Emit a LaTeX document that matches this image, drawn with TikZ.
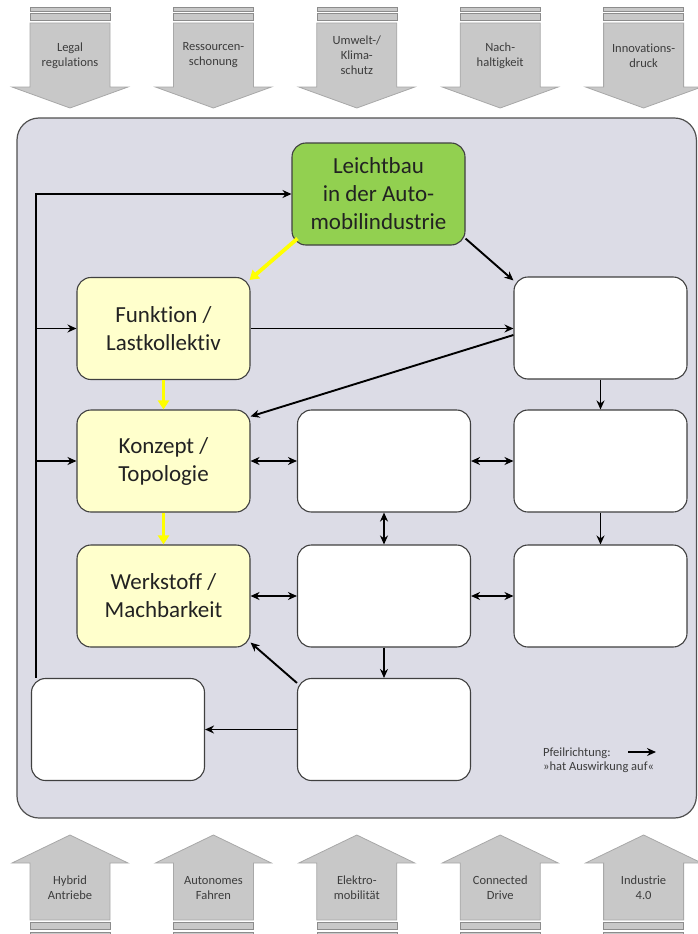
\documentclass[tikz,border=0pt]{standalone}
\usepackage{fontspec}
\setmainfont{Carlito}[Ligatures={NoCommon}]
\usetikzlibrary{arrows.meta,calc}

\definecolor{panel}{HTML}{DCDCE6}
\definecolor{panelline}{HTML}{505050}
\definecolor{leaf}{HTML}{92D050}
\definecolor{cream}{HTML}{FFFFCC}
\definecolor{boxline}{HTML}{404040}
\definecolor{ink}{HTML}{222222}
\definecolor{trend}{HTML}{C8C8C8}
\definecolor{trendline}{HTML}{A8A8A8}
\definecolor{barline}{HTML}{8C8C8C}
\definecolor{trendink}{HTML}{3C3C3C}
\definecolor{hilite}{HTML}{FFFF00}

\tikzset{
  box/.style={draw=boxline, line width=1.1pt, rounded corners=14pt,
    minimum width=173pt, minimum height=102pt, fill=white,
    align=center, inner sep=0pt, text=ink,
    font=\fontsize{23}{28}\selectfont},
  goal/.style={box, fill=leaf},
  phase/.style={box, fill=cream},
  conn/.style={draw=black, line width=1.9pt,
    -{Stealth[length=9pt,width=8pt]}},
  both/.style={conn, {Stealth[length=9pt,width=8pt]}-{Stealth[length=9pt,width=8pt]}},
  flow/.style={draw=hilite, line width=3.8pt,
    -{Triangle[length=9pt,width=11pt]}},
  trendarrow/.style={fill=trend, draw=trendline, line width=0.8pt},
  trendbar/.style={fill=trend, draw=barline, line width=0.6pt},
  trendtext/.style={align=center, inner sep=0pt, text=trendink,
    font=\fontsize{12.5}{15}\selectfont},
  legendtext/.style={align=left, inner sep=0pt, text=trendink,
    anchor=west, font=\fontsize{12.5}{14}\selectfont},
}

\begin{document}
\begin{tikzpicture}[x=1pt, y=-1pt]
\useasboundingbox (0,0) rectangle (697,934);

% driver arrows along the top
\foreach \i/\txt in {0/{Legal\\regulations}, 1/{Ressourcen-\\schonung},
    2/{Umwelt-/\\Klima-\\schutz}, 3/{Nach-\\haltigkeit}, 4/{Innovations-\\druck}} {
  \pgfmathsetmacro{\cx}{70+143.4*\i}
  \fill[trendbar] (\cx-40,7) rectangle (\cx+40,11);
  \fill[trendbar] (\cx-40,13) rectangle (\cx+40,20);
  \filldraw[trendarrow] (\cx-40,23) -- (\cx+40,23) -- (\cx+40,87) -- (\cx+58,87)
    -- (\cx,108) -- (\cx-58,87) -- (\cx-40,87) -- cycle;
  \node[trendtext] (top\i) at (\cx,55.5) {\txt};
}

% technology arrows along the bottom
\foreach \i/\txt in {0/{Hybrid\\Antriebe}, 1/{Autonomes\\Fahren},
    2/{Elektro-\\mobilität}, 3/{Connected\\Drive}, 4/{Industrie\\4.0}} {
  \pgfmathsetmacro{\cx}{70+143.4*\i}
  \filldraw[trendarrow] (\cx,835) -- (\cx+58,863) -- (\cx+40,863) -- (\cx+40,920)
    -- (\cx-40,920) -- (\cx-40,863) -- (\cx-58,863) -- cycle;
  \fill[trendbar] (\cx-40,922) rectangle (\cx+40,929);
  \fill[trendbar] (\cx-40,932) rectangle (\cx+40,938);
  \node[trendtext] (bot\i) at (\cx,888) {\txt};
}

% panel
\filldraw[fill=panel, draw=panelline, line width=1.2pt, rounded corners=22pt]
  (17,118) rectangle (696.4,818);

% boxes
\node[goal]  (green) at (378.5,194) {Leichtbau\\in der Auto-\\mobilindustrie};
\node[phase] (fun) at (163.5,328.5) {Funktion /\\Lastkollektiv};
\node[phase] (kon) at (163.5,461) {Konzept /\\Topologie};
\node[phase] (wer) at (163.5,596) {Werkstoff /\\Machbarkeit};
\node[box] (r1) at (600.5,328) {};
\node[box] (r2) at (600.5,461) {};
\node[box] (r3) at (600.5,596) {};
\node[box] (m2) at (384,461) {};
\node[box] (m3) at (384,596) {};
\node[box] (m4) at (384,729.5) {};
\node[box] (bl) at (118,729.5) {};

% feedback line on the left
\coordinate (fbot) at ([xshift=5pt]bl.north west);
\draw[conn] (fbot) |- (green.west);
\draw[conn] (fbot |- fun.west) -- (fun.west);
\draw[conn] (fbot |- kon.west) -- (kon.west);

% main chain
\draw[flow] ([xshift=6pt,yshift=7pt]green.south west) -- ([xshift=-1pt,yshift=-3pt]fun.north east);
\draw[flow] (fun.south) -- (kon.north);
\draw[flow] (kon.south) -- (wer.north);

% influences
\draw[conn] ([yshift=7pt]green.south east) -- ([xshift=0pt,yshift=-4pt]r1.north west);
\draw[conn] (fun.east) -- (fun.east -| r1.west);
\draw[conn] ([yshift=-7pt]r1.west) -- ([yshift=-7pt]kon.north east);
\draw[conn] (r1.south) -- (r2.north);
\draw[conn] (r2.south) -- (r3.north);
\draw[both] (kon.east) -- (m2.west);
\draw[both] (m2.east) -- (r2.west);
\draw[both] (m2.south) -- (m3.north);
\draw[both] (wer.east) -- (m3.west);
\draw[both] (m3.east) -- (r3.west);
\draw[conn] (m3.south) -- (m4.north);
\draw[conn] ([yshift=-5pt]m4.north west) -- ([yshift=5pt]wer.south east);
\draw[conn] (m4.west) -- (bl.east);

% legend
\node[legendtext] (leg) at (543,760) {Pfeilrichtung:\\»hat Auswirkung auf«};
\coordinate (lega) at (628,752);
\coordinate (legb) at (656,752);
\draw[conn] (lega) -- (legb);
\end{tikzpicture}
\end{document}
